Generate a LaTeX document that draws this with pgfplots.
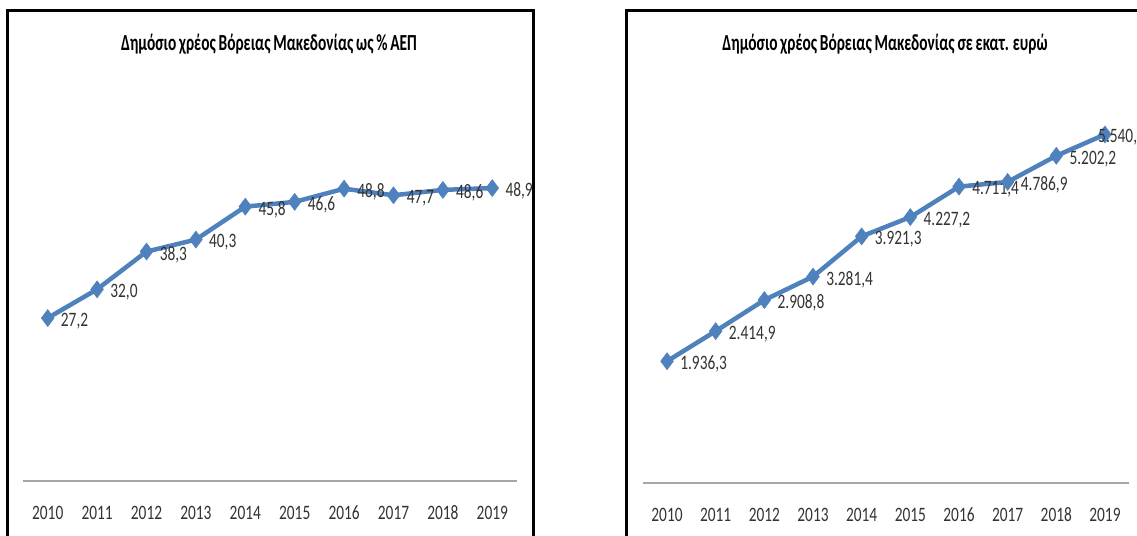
\documentclass[border=0pt]{standalone}
\usepackage{pgfplots}
\pgfplotsset{compat=1.18}
\usepackage{pgfplotstable}
\usepackage{fontspec}
\setmainfont{Carlito}[FakeStretch=0.75]
\newfontfamily\ttlfam{Carlito}[FakeStretch=0.67]
\definecolor{serblue}{HTML}{4F81BD}
\definecolor{axgrey}{HTML}{A6A6A6}

\pgfplotstableread{
x y
2010 27.2
2011 32.0
2012 38.3
2013 40.3
2014 45.8
2015 46.6
2016 48.8
2017 47.7
2018 48.6
2019 48.9
}\leftdata

\pgfplotstableread{
x y
2010 1936.3
2011 2414.9
2012 2908.8
2013 3281.4
2014 3921.3
2015 4227.2
2016 4711.4
2017 4786.9
2018 5202.2
2019 5540.9
}\rightdata

\newcommand{\lblfont}{\fontsize{20.5bp}{24bp}\selectfont}
\newcommand{\ttlfont}{\ttlfam\fontsize{23bp}{27bp}\selectfont\bfseries\spaceskip=0.12em plus 0.02em}

\pgfplotsset{panel/.style={
  scale only axis,
  axis y line=none,
  axis x line*=bottom,
  x axis line style={axgrey, line width=1.6bp, -},
  xmin=2009.5, xmax=2019.5,
  ymin=0,
  xtick={2010,2011,2012,2013,2014,2015,2016,2017,2018,2019},
  xticklabels={2010,2011,2012,2013,2014,2015,2016,2017,2018,2019},
  major tick length=0pt,
  xtick style={draw=none},
  xticklabel style={font=\lblfont, text=black!80, anchor=base, yshift=-38.5bp},
  clip=false,
  nodes near coords={\pgfmathprintnumber[fixed,fixed zerofill,precision=1,use comma,1000 sep={.},assume math mode=true]{\pgfplotspointmeta}},
  every node near coord/.append style={anchor=west, font=\lblfont, text=black!80, inner sep=0pt, xshift=13bp, yshift=-3bp},
}}

\begin{document}
\begin{tikzpicture}
\clip (0bp,0bp) rectangle (1137bp,536bp);
\fill[white] (0bp,0bp) rectangle (1137bp,536bp);
% frames
\draw[black, line width=3bp] (7bp,-10bp) -- (7bp,525bp) -- (533bp,525bp) -- (533bp,-10bp);
\draw[black, line width=3bp] (626.5bp,-10bp) -- (626.5bp,525bp) -- (1150bp,525bp);
% titles
\node[font=\ttlfont] at (269bp,492bp) {Δημόσιο χρέος Βόρειας Μακεδονίας ως \% ΑΕΠ};
\node[font=\ttlfont] at (885bp,492bp) {Δημόσιο χρέος Βόρειας Μακεδονίας σε εκατ. ευρώ};

\begin{axis}[panel, at={(23bp,55bp)}, anchor=south west, width=494bp, height=359.4bp, ymax=60]
\addplot[serblue, line width=4.5bp, mark=diamond*, mark size=8.5bp, mark options={fill=serblue, draw=serblue, line width=0.5bp}, point meta=explicit]
  table[x=x, y=y, meta=y] {\leftdata};
\end{axis}

\begin{axis}[panel, at={(642.7bp,53bp)}, anchor=south west, width=486.6bp, height=377.4bp, ymax=6000]
\addplot[serblue, line width=4.5bp, mark=diamond*, mark size=8.5bp, mark options={fill=serblue, draw=serblue, line width=0.5bp}, point meta=explicit,
  coordinate style/.condition={\coordindex==9}{xshift=-20bp}]
  table[x=x, y=y, meta=y] {\rightdata};
\end{axis}
\end{tikzpicture}
\end{document}
